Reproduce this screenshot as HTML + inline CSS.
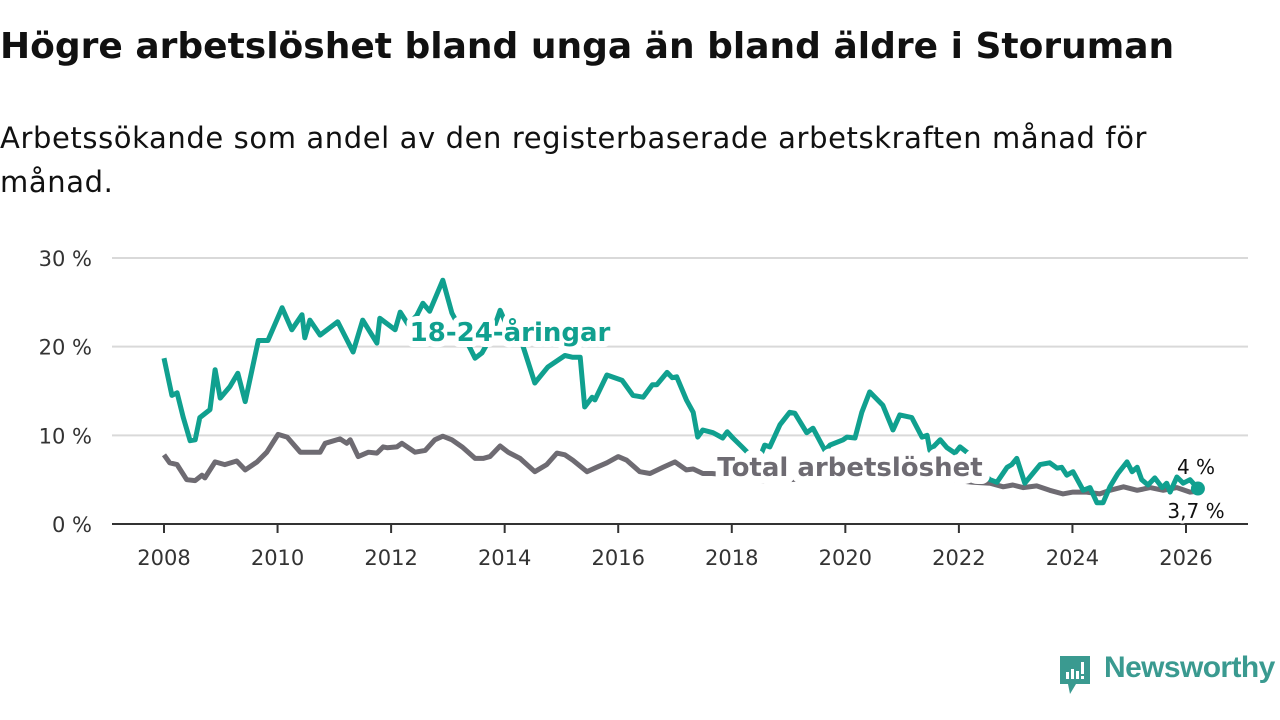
<!DOCTYPE html>
<html><head><meta charset="utf-8">
<style>
body{margin:0;width:1280px;height:720px;background:#fff;overflow:hidden;font-family:"DejaVu Sans","Liberation Sans",sans-serif;color:#111;}
#title{position:absolute;left:0;top:26px;font-size:36px;font-weight:bold;letter-spacing:0px;margin:0;}
#subtitle{position:absolute;left:0;top:116px;font-size:29px;line-height:44px;width:1175px;margin:0;letter-spacing:0.6px;}
svg{position:absolute;left:0;top:0;}
</style></head><body>
<h1 id="title">Högre arbetslöshet bland unga än bland äldre i Storuman</h1>
<p id="subtitle">Arbetssökande som andel av den registerbaserade arbetskraften månad för månad.</p>
<svg id="chart" width="1280" height="720"></svg>
<script>
const yTicks=[0,10,20,30];
const yTickLabels=["0 %","10 %","20 %","30 %"];
const xTicks=[2008,2010,2012,2014,2016,2018,2020,2022,2024,2026];
const youthYears=[2008.0,2008.14,2008.23,2008.34,2008.46,2008.55,2008.63,2008.81,2008.9,2008.99,2009.16,2009.3,2009.43,2009.66,2009.83,2010.08,2010.25,2010.43,2010.48,2010.57,2010.75,2011.06,2011.33,2011.5,2011.75,2011.8,2012.07,2012.16,2012.3,2012.45,2012.56,2012.68,2012.91,2013.07,2013.3,2013.48,2013.6,2013.75,2013.92,2014.1,2014.3,2014.53,2014.76,2015.06,2015.2,2015.33,2015.41,2015.54,2015.59,2015.8,2016.07,2016.26,2016.44,2016.6,2016.68,2016.86,2016.95,2017.03,2017.2,2017.32,2017.4,2017.49,2017.67,2017.84,2017.92,2018.02,2018.18,2018.29,2018.4,2018.53,2018.58,2018.67,2018.85,2019.02,2019.11,2019.32,2019.43,2019.64,2019.73,2019.96,2020.03,2020.17,2020.29,2020.43,2020.66,2020.84,2020.96,2021.17,2021.35,2021.44,2021.49,2021.67,2021.79,2021.93,2022.02,2022.16,2022.35,2022.55,2022.67,2022.85,2022.93,2023.02,2023.16,2023.43,2023.6,2023.73,2023.81,2023.9,2024.01,2024.19,2024.31,2024.43,2024.54,2024.66,2024.8,2024.96,2025.05,2025.14,2025.22,2025.33,2025.45,2025.58,2025.66,2025.72,2025.84,2025.95,2026.07,2026.21];
const youthValues=[18.7,14.5,14.8,12,9.4,9.5,12,12.9,17.4,14.2,15.5,17,13.8,20.7,20.7,24.4,21.9,23.6,21,23,21.3,22.8,19.4,23,20.4,23.2,21.9,23.9,22.5,23.5,24.9,24,27.5,23.8,21,18.7,19.3,21,24.1,21.5,20.5,15.9,17.7,19,18.8,18.8,13.2,14.3,14,16.8,16.2,14.5,14.3,15.7,15.7,17.1,16.5,16.6,14,12.6,9.8,10.6,10.3,9.7,10.4,9.7,8.7,8,7,8.1,8.9,8.7,11.2,12.6,12.5,10.3,10.8,8.3,8.9,9.5,9.8,9.7,12.6,14.9,13.4,10.6,12.3,12,9.8,10,8.3,9.5,8.6,8,8.7,8,6,5,4.7,6.4,6.7,7.4,4.6,6.7,6.9,6.3,6.4,5.5,5.9,3.8,4.1,2.4,2.4,4.2,5.7,7,5.9,6.4,5,4.4,5.2,4.1,4.6,3.6,5.3,4.6,5,4];
const totalYears=[2008.0,2008.1,2008.23,2008.4,2008.55,2008.67,2008.72,2008.9,2009.07,2009.28,2009.43,2009.64,2009.81,2010.01,2010.17,2010.4,2010.62,2010.75,2010.84,2011.1,2011.22,2011.28,2011.42,2011.6,2011.75,2011.86,2011.93,2012.1,2012.19,2012.42,2012.6,2012.77,2012.91,2013.07,2013.25,2013.48,2013.62,2013.74,2013.92,2014.06,2014.27,2014.53,2014.74,2014.92,2015.06,2015.2,2015.45,2015.62,2015.8,2016.0,2016.15,2016.38,2016.56,2016.79,2017.0,2017.2,2017.32,2017.49,2017.65,2018.0,2018.5,2019.0,2019.5,2020.0,2020.4,2020.8,2021.3,2021.8,2022.25,2022.55,2022.78,2022.95,2023.13,2023.37,2023.6,2023.83,2024.01,2024.25,2024.48,2024.66,2024.9,2025.14,2025.37,2025.6,2025.84,2026.07,2026.21];
const totalValues=[7.8,6.9,6.7,5,4.9,5.5,5.2,7,6.7,7.1,6.1,7,8.1,10.1,9.8,8.1,8.1,8.1,9.1,9.6,9.1,9.5,7.6,8.1,8,8.7,8.6,8.7,9.1,8.1,8.3,9.5,9.9,9.5,8.7,7.4,7.4,7.6,8.8,8.1,7.4,5.9,6.7,8,7.8,7.2,5.9,6.4,6.9,7.6,7.2,5.9,5.7,6.4,7,6.1,6.2,5.7,5.7,5.5,4.8,5,5.2,5.5,6.5,6,5.5,5,4.7,4.6,4.2,4.4,4.1,4.3,3.8,3.4,3.6,3.6,3.4,3.8,4.2,3.8,4.1,3.8,4.1,3.6,3.7];

const svg=document.getElementById('chart');
const NS='http://www.w3.org/2000/svg';
const X0=112,X1=1248,Y0=524;
function xs(yr){return 164+(yr-2008)*(1186-164)/18;}
function ys(v){return Y0-v*(Y0-258)/30;}
function mk(tag,attrs){const e=document.createElementNS(NS,tag);for(const k in attrs)e.setAttribute(k,attrs[k]);svg.appendChild(e);return e;}

yTicks.forEach((t,i)=>{
  if(t>0){const g=mk('line',{x1:X0,x2:X1,y1:ys(t),y2:ys(t),stroke:'#d9d9d9','stroke-width':2});
  
  }
  const l=mk('text',{x:92,y:ys(t)+8,'text-anchor':'end','font-size':21,fill:'#333'});
  l.textContent=yTickLabels[i];
  
  
});
const ax=mk('line',{x1:X0,x2:X1,y1:Y0,y2:Y0,stroke:'#333','stroke-width':2});


xTicks.forEach(t=>{
  const tk=mk('line',{x1:xs(t),x2:xs(t),y1:Y0,y2:Y0+9,stroke:'#333','stroke-width':2});
  
  
  const l=mk('text',{x:xs(t),y:565,'text-anchor':'middle','font-size':21,fill:'#333'});
  l.textContent=t;
  
  
});
function path(yrs,vals){return yrs.map((y,i)=>(i?'L':'M')+xs(y).toFixed(1)+','+ys(vals[i]).toFixed(1)).join('');}
const tl=mk('path',{d:path(totalYears,totalValues),fill:'none',stroke:'#6e6b72','stroke-width':5,'stroke-linejoin':'round'});


const yl=mk('path',{d:path(youthYears,youthValues),fill:'none',stroke:'#10a08f','stroke-width':5,'stroke-linejoin':'round'});


const n=youthYears.length-1;
const d1=mk('circle',{cx:xs(youthYears[n]),cy:ys(youthValues[n]),r:7,fill:'#10a08f'});


function lab(txt,x,y,size,fill,weight,anchor,name,sw){
  const t=mk('text',{x:x,y:y,'font-size':size,fill:fill,'font-weight':weight,'text-anchor':anchor,stroke:'#fff','stroke-width':sw,'paint-order':'stroke','stroke-linejoin':'round'});
  t.textContent=txt;
  
  
}
lab('18-24-åringar',510,341,26,'#10a08f','bold','middle','youth-series-label',12);
lab('Total arbetslöshet',850,476,26,'#6e6b72','bold','middle','total-series-label',16);
lab(youthValues[n].toFixed(0)+' %',1196,474,20,'#111','normal','middle','youth-end-value',6);
lab(String(totalValues[totalValues.length-1]).replace('.',',')+' %',1196,518,20,'#111','normal','middle','total-end-value',6);
</script>
<div style="position:absolute;left:1058px;top:654px;height:40px;">
<svg width="36" height="42" style="position:absolute;left:0;top:0;">
<path d="M2 2 H32 V30 H18 L12 40 L10 30 H2 Z" fill="#3a9a90"/>
<rect x="8" y="18" width="3" height="7" fill="#fff"/><rect x="13" y="15" width="3" height="10" fill="#fff"/><rect x="18" y="17" width="3" height="8" fill="#fff"/><rect x="23" y="8" width="3" height="12" fill="#fff"/><rect x="23" y="22" width="3" height="3" fill="#fff"/>
</svg>
<span style="position:absolute;left:46px;top:-3px;font-family:'Liberation Sans',sans-serif;font-size:30px;font-weight:bold;color:#3a9a90;white-space:nowrap;letter-spacing:-0.6px;">Newsworthy</span>
</div>
</body></html>
